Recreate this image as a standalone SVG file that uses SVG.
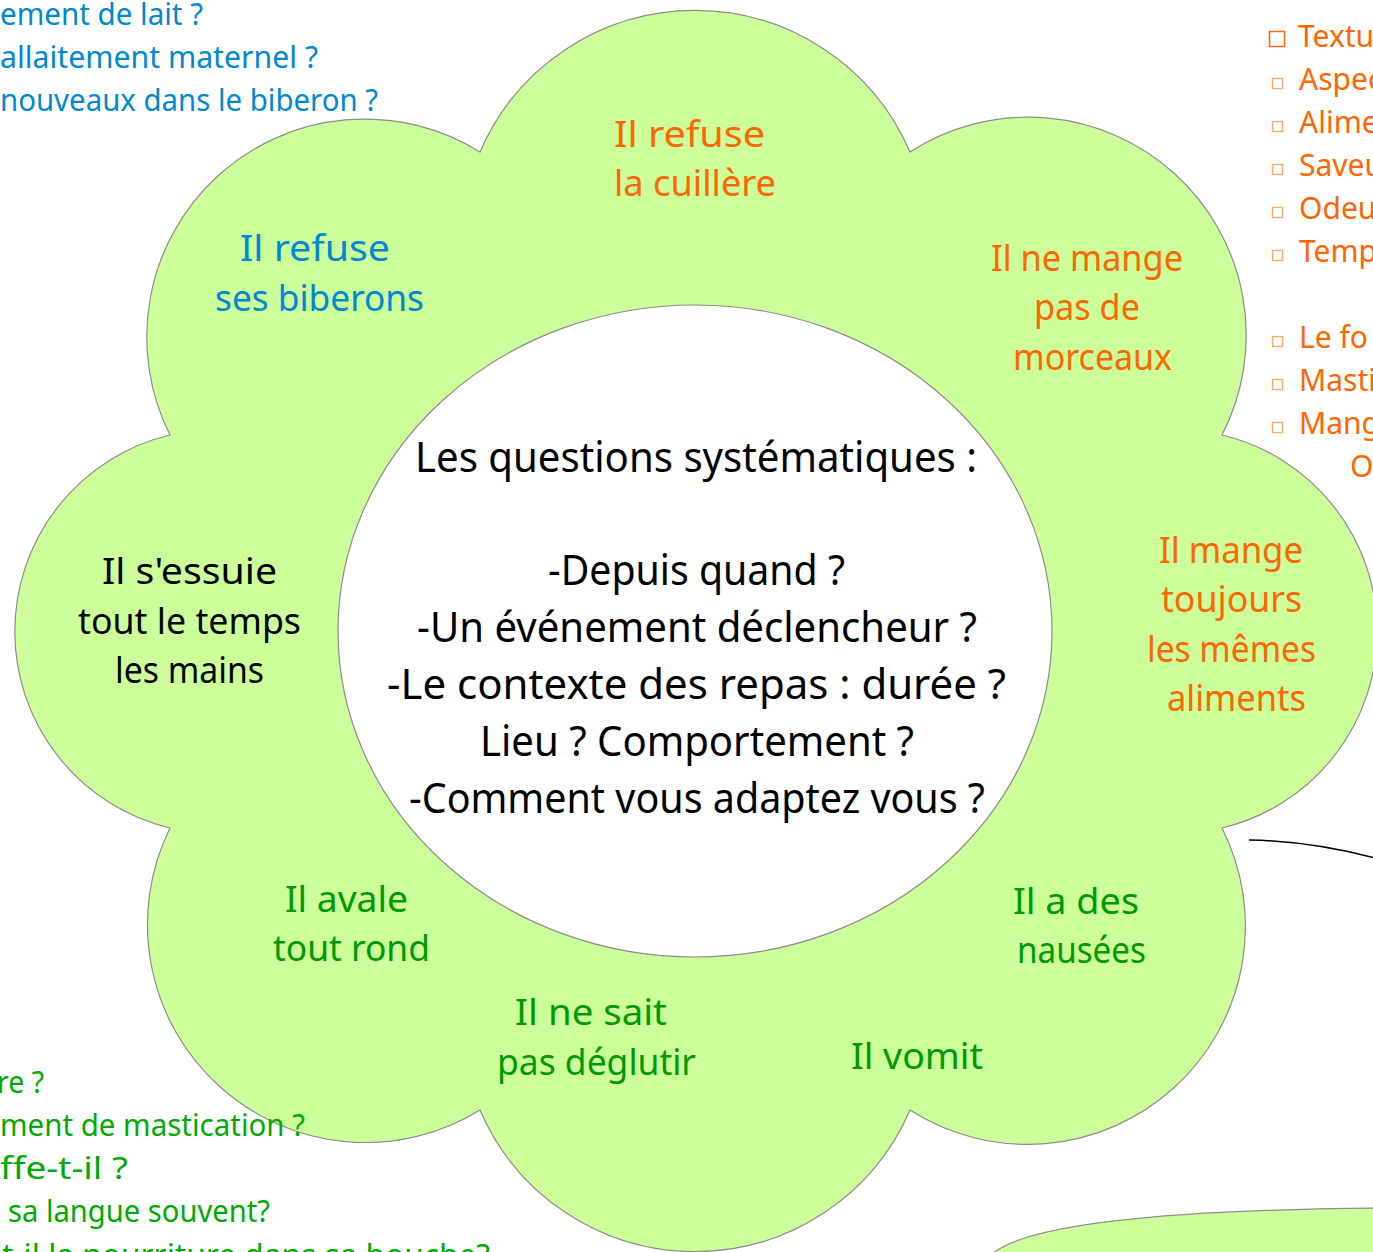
<svg xmlns="http://www.w3.org/2000/svg" width="1373" height="1252" viewBox="0 0 1373 1252">
<style>
text{font-family:"Noto Sans","DejaVu Sans",sans-serif}
.lbl{font-size:36px;text-anchor:middle}
.ctr{font-size:41px;text-anchor:middle;fill:#000}
.side{font-size:30px}
.or{fill:#FF6600}
.bl{fill:#0088D0}
.gr{fill:#009900}
.lg{fill:#00AA00}
.bk{fill:#000}
.shape{fill:#CCFF99;stroke:#8C8C8C;stroke-width:1.2}
.box{fill:#fff;stroke:#FFA868;stroke-width:1.3}
</style>
<rect width="1373" height="1252" fill="#fff"/>

<g id="flower">
<path class="shape" d="M480 152 A234 234 0 0 1 910 152 A218 218 0 0 1 1222 435 A202 202 0 0 1 1222 828 A218 218 0 0 1 910 1110 A234 234 0 0 1 480 1110 A218 218 0 0 1 170 828 A202 202 0 0 1 170 435 A218 218 0 0 1 480 152 Z"/>
</g>
<g id="center">
<ellipse cx="695" cy="631" rx="357" ry="326" fill="#fff" stroke="#8C8C8C" stroke-width="1.2"/>
<text class="ctr" x="696" y="472" textLength="562" lengthAdjust="spacingAndGlyphs">Les questions systématiques :</text>
<text class="ctr" x="696.5" y="585" textLength="297" lengthAdjust="spacingAndGlyphs">-Depuis quand ?</text>
<text class="ctr" x="697" y="642" textLength="560" lengthAdjust="spacingAndGlyphs">-Un événement déclencheur ?</text>
<text class="ctr" x="696.5" y="699" textLength="619" lengthAdjust="spacingAndGlyphs">-Le contexte des repas : durée ?</text>
<text class="ctr" x="697" y="756" textLength="434" lengthAdjust="spacingAndGlyphs">Lieu ? Comportement ?</text>
<text class="ctr" x="697" y="813" textLength="576" lengthAdjust="spacingAndGlyphs">-Comment vous adaptez vous ?</text>
</g>

<g id="bottom-right-shape">
<path class="shape" d="M990 1256 C1020 1226 1150 1210 1380 1208 L1380 1260 L990 1260 Z"/>
</g>

<g id="connectors">
<path d="M1249 840 Q1310 841 1375 858" fill="none" stroke="#000" stroke-width="1.5"/>
</g>

<g id="petal-cuillere">
<text class="lbl or" x="689.5" y="147" textLength="151" lengthAdjust="spacingAndGlyphs">Il refuse</text>
<text class="lbl or" x="695" y="196" textLength="162" lengthAdjust="spacingAndGlyphs">la cuillère</text>
</g>
<g id="petal-biberons">
<text class="lbl bl" x="315" y="261" textLength="150" lengthAdjust="spacingAndGlyphs">Il refuse</text>
<text class="lbl bl" x="319.5" y="311" textLength="209" lengthAdjust="spacingAndGlyphs">ses biberons</text>
</g>
<g id="petal-morceaux">
<text class="lbl or" x="1087" y="271" textLength="192" lengthAdjust="spacingAndGlyphs">Il ne mange</text>
<text class="lbl or" x="1087" y="320" textLength="106" lengthAdjust="spacingAndGlyphs">pas de</text>
<text class="lbl or" x="1092.5" y="370" textLength="159" lengthAdjust="spacingAndGlyphs">morceaux</text>
</g>
<g id="petal-memes">
<text class="lbl or" x="1231" y="563" textLength="144" lengthAdjust="spacingAndGlyphs">Il mange</text>
<text class="lbl or" x="1231.5" y="612" textLength="141" lengthAdjust="spacingAndGlyphs">toujours</text>
<text class="lbl or" x="1231.5" y="662" textLength="169" lengthAdjust="spacingAndGlyphs">les mêmes</text>
<text class="lbl or" x="1236.5" y="711" textLength="139" lengthAdjust="spacingAndGlyphs">aliments</text>
</g>
<g id="petal-essuie">
<text class="lbl bk" x="189.5" y="584" textLength="175" lengthAdjust="spacingAndGlyphs">Il s'essuie</text>
<text class="lbl bk" x="189.5" y="634" textLength="223" lengthAdjust="spacingAndGlyphs">tout le temps</text>
<text class="lbl bk" x="189.5" y="683" textLength="149" lengthAdjust="spacingAndGlyphs">les mains</text>
</g>
<g id="petal-avale">
<text class="lbl gr" x="346.5" y="912" textLength="123" lengthAdjust="spacingAndGlyphs">Il avale</text>
<text class="lbl gr" x="351.5" y="961" textLength="157" lengthAdjust="spacingAndGlyphs">tout rond</text>
</g>
<g id="petal-deglutir">
<text class="lbl gr" x="591" y="1025" textLength="152" lengthAdjust="spacingAndGlyphs">Il ne sait</text>
<text class="lbl gr" x="596.5" y="1075" textLength="199" lengthAdjust="spacingAndGlyphs">pas déglutir</text>
</g>
<g id="petal-vomit">
<text class="lbl gr" x="917" y="1069" textLength="132" lengthAdjust="spacingAndGlyphs">Il vomit</text>
</g>
<g id="petal-nausees">
<text class="lbl gr" x="1076" y="914" textLength="126" lengthAdjust="spacingAndGlyphs">Il a des</text>
<text class="lbl gr" x="1081.5" y="963" textLength="129" lengthAdjust="spacingAndGlyphs">nausées</text>
</g>

<g id="list-top-left">
<text class="side bl" x="0" y="25" textLength="203" lengthAdjust="spacingAndGlyphs">ement de lait ?</text>
<text class="side bl" x="0" y="68" textLength="318" lengthAdjust="spacingAndGlyphs">allaitement maternel ?</text>
<text class="side bl" x="0" y="111" textLength="378" lengthAdjust="spacingAndGlyphs">nouveaux dans le biberon ?</text>
</g>

<g id="list-bottom-left">
<text class="side lg" x="-3" y="1093" textLength="47" lengthAdjust="spacingAndGlyphs">re ?</text>
<text class="side lg" x="0" y="1136" textLength="305" lengthAdjust="spacingAndGlyphs">ment de mastication ?</text>
<text class="side lg" x="0" y="1179" textLength="128" lengthAdjust="spacingAndGlyphs">ffe-t-il ?</text>
<text class="side lg" x="8" y="1222" textLength="262" lengthAdjust="spacingAndGlyphs">sa langue souvent?</text>
<text class="side lg" x="2" y="1266" textLength="488" lengthAdjust="spacingAndGlyphs">t-il la nourriture dans sa bouche?</text>
</g>

<g id="list-right">
<rect x="1269.5" y="31.5" width="15" height="15" fill="#fff" stroke="#FF6600" stroke-width="1.5"/>
<text class="side or" x="1298" y="47">Textu</text>
<rect class="box" x="1272.5" y="78.5" width="10" height="10"/>
<text class="side or" x="1299" y="90">Aspec</text>
<rect class="box" x="1272.5" y="121.5" width="10" height="10"/>
<text class="side or" x="1299" y="133">Alime</text>
<rect class="box" x="1272.5" y="164.5" width="10" height="10"/>
<text class="side or" x="1299" y="176">Saveu</text>
<rect class="box" x="1272.5" y="207.5" width="10" height="10"/>
<text class="side or" x="1299" y="219">Odeu</text>
<rect class="box" x="1272.5" y="250.5" width="10" height="10"/>
<text class="side or" x="1299" y="262">Temp</text>
<rect class="box" x="1272.5" y="336.5" width="10" height="10"/>
<text class="side or" x="1299" y="348">Le fo</text>
<rect class="box" x="1272.5" y="379.5" width="10" height="10"/>
<text class="side or" x="1299" y="391">Masti</text>
<rect class="box" x="1272.5" y="422.5" width="10" height="10"/>
<text class="side or" x="1299" y="434">Mang</text>
<text class="side or" x="1350" y="477">O</text>
</g>
</svg>
